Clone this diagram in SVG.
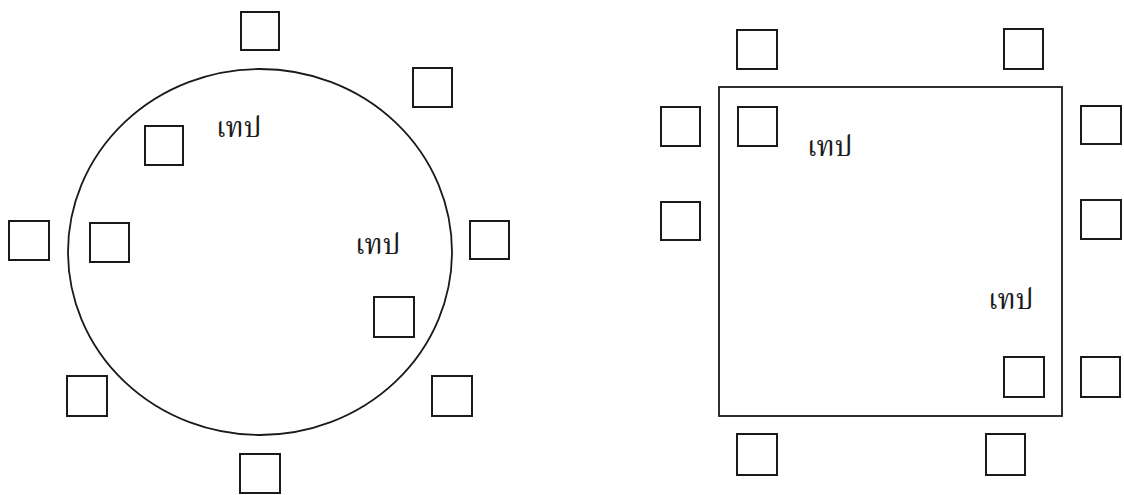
<svg xmlns="http://www.w3.org/2000/svg" width="1124" height="495" viewBox="0 0 1124 495">
  <style>
    .seat { fill: #fff; stroke: #1a1a1a; stroke-width: 2; }
    .room { fill: none; stroke: #1a1a1a; stroke-width: 1.8; }
    .label { font-family: "Noto Serif Thai", "Noto Sans Thai", "DejaVu Serif", "Liberation Serif", serif; font-size: 28px; fill: #1a1a1a; }
  </style>
  <rect width="1124" height="495" fill="#fff"/>

  <!-- round layout -->
  <g id="round-room">
    <ellipse class="room" cx="260" cy="252" rx="192" ry="183"/>
  </g>
  <g id="round-labels">
    <text class="label" x="216" y="137">เทป</text>
    <text class="label" x="355" y="254">เทป</text>
  </g>
  <g id="round-seats">
    <rect id="r-top" class="seat" x="241" y="12" width="38" height="38"/>
    <rect id="r-upper-right" class="seat" x="413" y="68" width="39" height="39"/>
    <rect id="r-inner-upper" class="seat" x="145" y="126" width="38" height="39"/>
    <rect id="r-left-out" class="seat" x="9" y="221" width="40" height="39"/>
    <rect id="r-left-in" class="seat" x="90" y="223" width="39" height="39"/>
    <rect id="r-right-out" class="seat" x="470" y="221" width="39" height="38"/>
    <rect id="r-inner-lower" class="seat" x="374" y="297" width="40" height="40"/>
    <rect id="r-lower-left" class="seat" x="67" y="376" width="40" height="40"/>
    <rect id="r-lower-right" class="seat" x="432" y="376" width="40" height="40"/>
    <rect id="r-bottom" class="seat" x="240" y="454" width="40" height="39"/>
  </g>

  <!-- square layout -->
  <g id="square-room">
    <rect class="room" x="719" y="87" width="343" height="329"/>
  </g>
  <g id="square-labels">
    <text class="label" x="807" y="156">เทป</text>
    <text class="label" x="988" y="309">เทป</text>
  </g>
  <g id="square-seats">
    <rect id="s-top-left" class="seat" x="737" y="30" width="40" height="39"/>
    <rect id="s-top-right" class="seat" x="1004" y="29" width="39" height="40"/>
    <rect id="s-left-1" class="seat" x="661" y="107" width="39" height="39"/>
    <rect id="s-inner-1" class="seat" x="738" y="107" width="39" height="39"/>
    <rect id="s-right-1" class="seat" x="1081" y="106" width="40" height="38"/>
    <rect id="s-left-2" class="seat" x="661" y="202" width="39" height="38"/>
    <rect id="s-right-2" class="seat" x="1081" y="200" width="40" height="39"/>
    <rect id="s-inner-2" class="seat" x="1004" y="357" width="40" height="40"/>
    <rect id="s-right-3" class="seat" x="1081" y="357" width="39" height="40"/>
    <rect id="s-bottom-left" class="seat" x="737" y="434" width="40" height="41"/>
    <rect id="s-bottom-right" class="seat" x="986" y="434" width="39" height="41"/>
  </g>
</svg>
